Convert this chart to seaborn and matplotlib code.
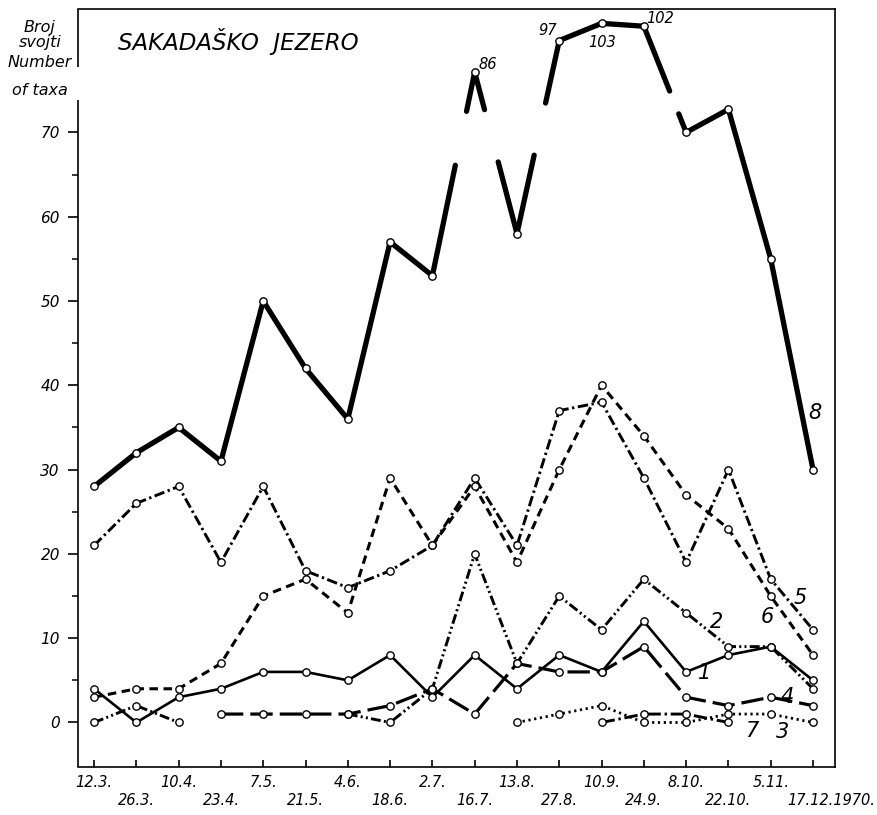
import numpy as np
import pandas as pd
import matplotlib
matplotlib.use("Agg")
import matplotlib.pyplot as plt
import seaborn as sns
from matplotlib.transforms import ScaledTranslation

# Sampling dates (1970)
dates = ["12.3.", "26.3.", "10.4.", "23.4.", "7.5.", "21.5.", "4.6.", "18.6.", "2.7.",
         "16.7.", "13.8.", "27.8.", "10.9.", "24.9.", "8.10.", "22.10.", "5.11.", "17.12.1970."]

# Number of taxa per group (None = no sample)
taxa_1 = [4, 0, 3, 4, 6, 6, 5, 8, 3, 8, 4, 8, 6, 12, 6, 8, 9, 5]
taxa_2 = [0, 2, 0, None, None, None, 1, 0, 4, 20, 7, 15, 11, 17, 13, 9, 9, 4]
taxa_3 = [None, None, None, None, None, None, None, None, None, None, 0, 1, 2, 0, 0, 1, 1, 0]
taxa_4 = [None, None, None, 1, 1, 1, 1, 2, 4, 1, 7, 6, 6, 9, 3, 2, 3, 2]
taxa_5 = [21, 26, 28, 19, 28, 18, 16, 18, 21, 29, 21, 37, 38, 29, 19, 30, 17, 11]
taxa_6 = [3, 4, 4, 7, 15, 17, 13, 29, 21, 28, 19, 30, 40, 34, 27, 23, 15, 8]
taxa_7 = [None, None, None, None, None, None, None, None, None, None, None, None, 0, 1, 1, 0, None, None]
taxa_8 = [28, 32, 35, 31, 50, 42, 36, 57, 53, 86, 58, 97, 103, 102, 70, 73, 55, 30]

# values written next to the peak of the total curve
peak_labels = [9, 11, 12, 13]

# y axis: linear up to BREAK, compressed above it
BREAK = 72.6
SQUEEZE = 0.34

# interruptions of the total curve where it crosses the change of scale
line8_breaks = {8: (66.1, 72.5), 9: (66.5, 72.9), 10: (67.3, 75.2), 13: (72.2, 79.4)}


def fwd(v):
    v = np.asarray(v, dtype=float)
    return np.where(v > BREAK, BREAK + (v - BREAK) * SQUEEZE, v)


def inv(t):
    t = np.asarray(t, dtype=float)
    return np.where(t > BREAK, BREAK + (t - BREAK) / SQUEEZE, t)


groups = {"1": taxa_1, "2": taxa_2, "3": taxa_3, "4": taxa_4,
          "5": taxa_5, "6": taxa_6, "7": taxa_7}

dash_map = {
    "1": "",
    "2": (3.4, 1.1, 0.7, 1.1, 0.7, 1.1),
    "3": (0.8, 1.3),
    "4": (7.0, 2.2),
    "5": (3.6, 1.2, 0.8, 1.2),
    "6": (2.8, 1.8),
    "7": (4.6, 1.3, 0.8, 1.3),
}
width_map = {"1": 1.9, "2": 2.1, "3": 2.0, "4": 2.3, "5": 2.1, "6": 2.2, "7": 2.1}

# long-form tables: one run per unbroken stretch of samples
rows, pts = [], []
run = 0
for name, vals in groups.items():
    run += 1
    prev = False
    for i, v in enumerate(vals):
        if v is None:
            if prev:
                run += 1
            prev = False
            continue
        rows.append({"series": name, "run": run, "pos": i, "taxa": v})
        pts.append({"pos": i, "taxa": v})
        prev = True
lines = pd.DataFrame(rows)

for i, v in enumerate(taxa_8):
    pts.append({"pos": i, "taxa": v})
points = pd.DataFrame(pts)

# total curve split into pieces at the scale change
pieces = []
piece = 0
pieces.append({"piece": piece, "pos": 0, "taxa": taxa_8[0]})
for i in range(len(taxa_8) - 1):
    x0, x1 = i, i + 1
    v0, v1 = taxa_8[i], taxa_8[i + 1]
    if i in line8_breaks:
        t0, t1 = float(fwd(v0)), float(fwd(v1))
        lo, hi = line8_breaks[i]
        ua = (float(fwd(lo)) - t0) / (t1 - t0)
        ub = (float(fwd(hi)) - t0) / (t1 - t0)
        u1, u2 = sorted([ua, ub])
        pieces.append({"piece": piece, "pos": x0 + u1 * (x1 - x0),
                       "taxa": float(inv(t0 + u1 * (t1 - t0)))})
        piece += 1
        pieces.append({"piece": piece, "pos": x0 + u2 * (x1 - x0),
                       "taxa": float(inv(t0 + u2 * (t1 - t0)))})
    pieces.append({"piece": piece, "pos": x1, "taxa": v1})
total = pd.DataFrame(pieces)

sns.set_style("ticks")
plt.rcParams["font.family"] = ["DejaVu Sans"]
plt.rcParams["font.style"] = "italic"
for key in ["text.color", "axes.labelcolor", "xtick.color", "ytick.color",
            "axes.edgecolor"]:
    plt.rcParams[key] = "black"

fig = plt.figure(figsize=(8.77, 8.15), dpi=100)
ax = fig.add_axes([78 / 877, 1 - 767 / 815, (835 - 78) / 877, 758 / 815])
ax.set_yscale("function", functions=(fwd, inv))

sns.lineplot(data=lines, x="pos", y="taxa", style="series", size="series", units="run",
             estimator=None, sort=False, dashes=dash_map, sizes=width_map,
             color="black", legend=False, ax=ax)
sns.lineplot(data=total, x="pos", y="taxa", units="piece", estimator=None, sort=False,
             color="black", linewidth=3.8, solid_capstyle="round", legend=False, ax=ax)
sns.scatterplot(data=points, x="pos", y="taxa", s=28, color="white", edgecolor="black",
                linewidth=1.0, zorder=4, legend=False, ax=ax)

ax.set_xlim(-0.38, 17.52)
ax.set_ylim(-5.28, float(inv(84.64)))
ax.set_xlabel("")
ax.set_ylabel("")

# axes and ticks
ax.set_xticks(range(len(dates)))
ax.set_xticklabels([d if i % 2 == 0 else "\n" + d for i, d in enumerate(dates)])
ax.set_yticks(range(0, 80, 10))
ax.set_yticks(range(5, 70, 10), minor=True)
ax.tick_params(axis="x", direction="in", length=5, width=1.2, pad=6, labelsize=10.5,
               colors="black")
ax.tick_params(axis="y", which="major", direction="out", length=7, width=1.2, pad=6,
               labelsize=11, colors="black")
ax.tick_params(axis="y", which="minor", direction="out", length=4, width=1.1,
               colors="black")
last = ax.get_xticklabels()[-1]
last.set_horizontalalignment("left")
last.set_transform(last.get_transform() + ScaledTranslation(-0.26, 0, fig.dpi_scale_trans))

for side in ["top", "right", "bottom"]:
    ax.spines[side].set_linewidth(1.2)
    ax.spines[side].set_color("black")
ax.spines["left"].set_visible(False)
for a, b in [(0.0, (767 - 100) / 758), ((767 - 67) / 758, 1.0)]:
    ax.plot([0, 0], [a, b], transform=ax.transAxes, color="black", lw=1.2,
            clip_on=False, solid_capstyle="butt")

# values at the peak of the total curve
offsets = {9: ((3, 0), "left", "bottom"), 11: ((-2, 1.5), "right", "bottom"),
           12: ((0.5, -8.5), "center", "top"), 13: ((2, 0.5), "left", "bottom")}
for i in peak_labels:
    (dx, dy), ha, va = offsets[i]
    ax.annotate(str(taxa_8[i]), xy=(i, taxa_8[i]), xytext=(dx, dy),
                textcoords="offset points", ha=ha, va=va, fontsize=10.5)

# group numbers
series_tags = {"8": (17.05, 36.7), "5": (16.69, 14.8), "6": (15.93, 12.5),
               "2": (14.73, 11.9), "1": (14.44, 5.9), "4": (16.38, 3.0),
               "7": (15.56, -1.0), "3": (16.29, -1.1)}
for tag, (x, y) in series_tags.items():
    ax.text(x, y, tag, fontsize=15, ha="center", va="center")

# titles
fig.text(118 / 877, 1 - 50 / 815, "SAKADAŠKO  JEZERO", fontsize=16.5, ha="left",
         va="baseline")
for txt, base in [("Broj", 32), ("svojti", 47), ("Number", 67), ("of taxa", 95)]:
    fig.text(40 / 877, 1 - base / 815, txt, fontsize=11.5, ha="center", va="baseline")

fig.savefig("out.png", dpi=100)
